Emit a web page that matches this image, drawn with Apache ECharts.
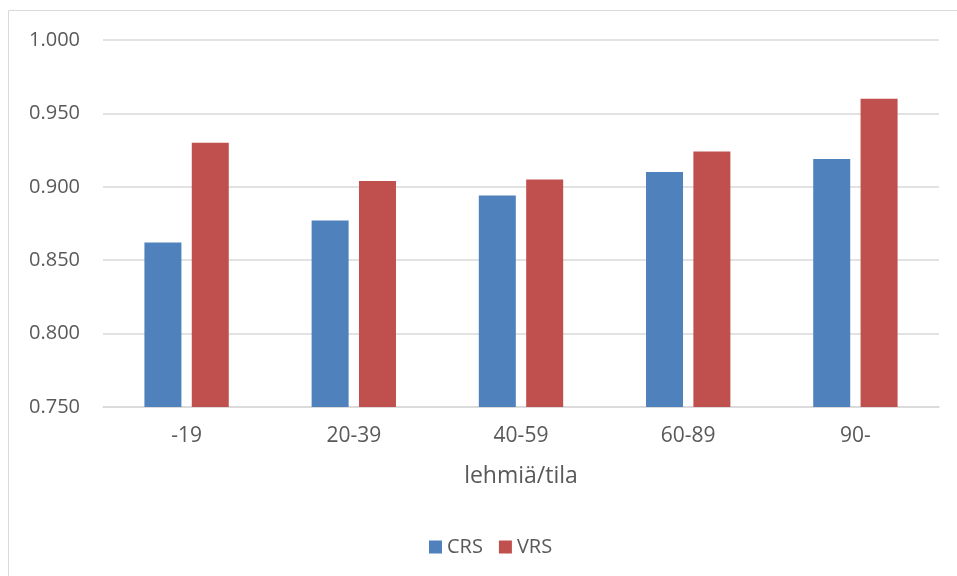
<!DOCTYPE html>
<html>
<head>
<meta charset="utf-8">
<script src="https://cdn.jsdelivr.net/npm/echarts@6/dist/echarts.min.js"></script>
<style>
  html, body { margin: 0; padding: 0; background: #fff; }
  #chart { width: 957px; height: 576px; }
</style>
</head>
<body>
<div id="chart"></div>
<script>
// Herd size classes (cows per farm)
const categories = ['-19', '20-39', '40-59', '60-89', '90-'];
// Efficiency scores, constant and variable returns to scale
const crsValues = [0.862, 0.877, 0.894, 0.910, 0.919];
const vrsValues = [0.930, 0.904, 0.905, 0.924, 0.960];
const seriesNames = ['CRS', 'VRS'];
const axisTitle = 'lehmiä/tila';

const textColor = '#595959';
const fontFamily = '"Open Sans", "Noto Sans", sans-serif';

const chart = echarts.init(document.getElementById('chart'));
chart.setOption({
  animation: false,
  backgroundColor: '#ffffff',
  textStyle: { fontFamily: fontFamily },
  graphic: [{
    type: 'rect',
    shape: { x: 8.5, y: 10.5, width: 1200, height: 1200 },
    style: { fill: 'none', stroke: '#d9d9d9', lineWidth: 1 },
    silent: true,
    z: -1
  }],
  grid: { left: 103, right: 18, top: 40, bottom: 169, containLabel: false },
  legend: {
    data: seriesNames,
    top: 537,
    left: 429,
    icon: 'rect',
    itemWidth: 13,
    itemHeight: 13,
    itemGap: 16,
    padding: 0,
    textStyle: { color: textColor, fontSize: 20, fontFamily: fontFamily }
  },
  xAxis: {
    type: 'category',
    data: categories,
    name: axisTitle,
    nameLocation: 'middle',
    nameGap: 58,
    nameTextStyle: { color: textColor, fontSize: 23, fontFamily: fontFamily },
    axisLine: { show: true, lineStyle: { color: '#d9d9d9', width: 1.5 } },
    axisTick: { show: false },
    axisLabel: { color: textColor, fontSize: 21, margin: 19, fontFamily: fontFamily }
  },
  yAxis: {
    type: 'value',
    min: 0.75,
    max: 1.0,
    interval: 0.05,
    axisLine: { show: false },
    axisTick: { show: false },
    axisLabel: {
      color: textColor,
      fontSize: 20,
      margin: 23,
      fontFamily: fontFamily,
      formatter: v => v.toFixed(3)
    },
    splitLine: { lineStyle: { color: '#d9d9d9', width: 1.5 } }
  },
  series: [
    {
      name: seriesNames[0],
      type: 'bar',
      data: crsValues,
      barWidth: 37,
      barGap: '28%',
      itemStyle: { color: '#4f81bd' }
    },
    {
      name: seriesNames[1],
      type: 'bar',
      data: vrsValues,
      barWidth: 37,
      barGap: '28%',
      itemStyle: { color: '#c0504d' }
    }
  ]
});
</script>
</body>
</html>
